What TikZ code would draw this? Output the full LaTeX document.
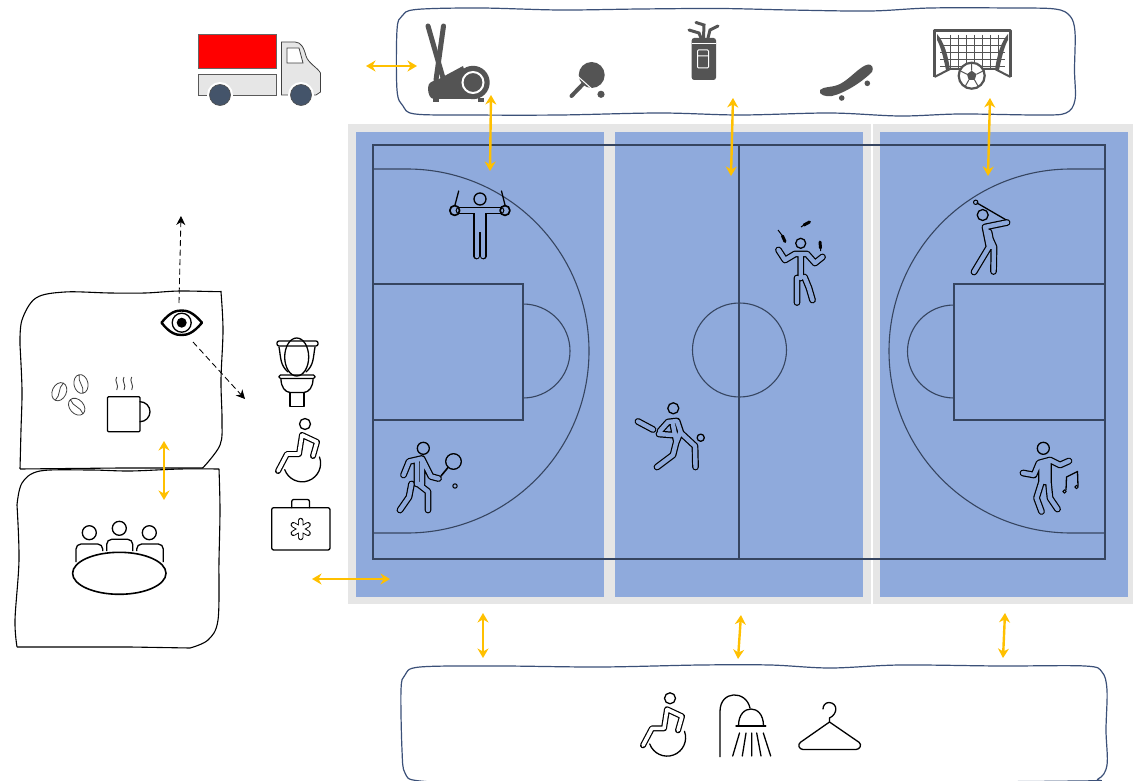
\documentclass[tikz,border=0pt]{standalone}
\usetikzlibrary{arrows.meta}
\definecolor{courtblue}{HTML}{8FAADC}
\definecolor{courtgrey}{HTML}{E6E6E6}
\definecolor{courtline}{HTML}{364560}
\definecolor{gold}{HTML}{FFC000}
\definecolor{navyline}{HTML}{3B5078}
\definecolor{icongrey}{HTML}{545454}
\definecolor{wheelblue}{HTML}{44546A}
\tikzset{
    goldarrow/.style={<->, draw=gold, line width=2.4pt, >={Stealth[length=9.5pt,width=11pt]}},
    sightline/.style={->, dash pattern=on 6pt off 3.5pt, line width=0.85pt, >={Stealth[length=9pt,width=9pt]}},
    courtstroke/.style={draw=courtline, line width=1.1pt},
    person/.style={draw=black, double=#1, line width=1.2pt, double distance=4.4pt, line cap=round, line join=round},
    person/.default=courtblue,
    thinline/.style={draw=black, line width=1.3pt, line cap=round, line join=round},
    wobble/.style={smooth cycle, tension=0.55},
    wheeluser/.pic={
        \draw[thinline] (0,0) circle (5.5pt);
        \draw[thinline] (14.5,33) arc[start angle=20, end angle=-160, radius=18.5pt];
        \draw[person=white, double distance=3.6pt] (-3,11) -- (-6,30) -- (-18,30) -- (-27,47)
            (-3,11) -- (12,18) -- (8,32);
    }
}
\begin{document}
\begin{tikzpicture}[x=1pt, y=-1pt]
    \useasboundingbox (0,0) rectangle (1133,781);

    \fill[courtgrey] (348,124) rectangle (870.5,604);
    \fill[courtgrey] (873,124) rectangle (1133,604);
    \fill[courtblue] (356,132) rectangle (603.5,597);
    \fill[courtblue] (615,132) rectangle (863,597);
    \fill[courtblue] (880,132) rectangle (1128,597);

    \draw[courtstroke] (373,145) rectangle (1105,559);
    \draw[courtstroke] (739,145) -- (739,559);
    \draw[courtstroke] (739.5,350) circle (47pt);
    \draw[courtstroke] (373,284) rectangle (523,420);
    \draw[courtstroke] (523,304) arc[start angle=90, end angle=-90, radius=47pt];
    \draw[courtstroke] (373,169) -- (407,169) arc[start angle=90, end angle=-90, radius=182pt] -- (373,533);
    \draw[courtstroke] (954,284) rectangle (1105,420);
    \draw[courtstroke] (954,305) arc[start angle=90, end angle=270, radius=46.5pt];
    \draw[courtstroke] (1105,169) -- (1071,169) arc[start angle=90, end angle=270, radius=182pt] -- (1105,533);

    \draw[navyline, line width=1.2pt, fill=white] plot[wobble] coordinates {
        (397,30) (402,16) (416,9.5) (480,8) (560,10) (640,9) (720,8.5) (790,10) (870,11) (930,8) (1010,8) (1055,9) (1070,16) (1075,32)
        (1074.5,70) (1075,100) (1066,113) (1040,115) (960,114) (900,116) (830,113) (740,115) (660,113) (560,115) (470,115) (415,114) (403,106) (397,90)
    };
    \draw[navyline, line width=1.2pt, fill=white] plot[wobble] coordinates {
        (401,690) (405,675) (420,667) (500,666) (600,667) (700,665) (770,665) (830,668) (900,665) (1000,666) (1085,666) (1102,672) (1107,690)
        (1106,730) (1107,765) (1098,779) (1075,781) (800,783) (500,783) (420,781) (405,773) (402,750)
    };

    \draw[line width=1.1pt, fill=white, rounded corners=0.5pt] plot[smooth, tension=0.55] coordinates {
        (20,345) (22,320) (36,298) (65,292) (110,293) (145,293) (180,291) (221,292)
    } -- (221,292) plot[smooth, tension=0.55] coordinates {
        (221,292) (223,330) (221,380) (222,420) (220,445) (203,468)
    } -- (120,468) -- (20,469) plot[smooth, tension=0.55] coordinates {
        (20,469) (21,430) (22,390) (20,345)
    };
    \draw[line width=1.1pt, fill=white] plot[smooth, tension=0.55] coordinates {
        (17,505) (22,483) (40,471) (90,470) (130,471) (180,469) (219,469)
    } -- (219,469) plot[smooth, tension=0.55] coordinates {
        (219,469) (220,510) (219,560) (218,620) (208,640) (190,648)
    } -- (130,647) -- (17,647) plot[smooth, tension=0.55] coordinates {
        (17,647) (15,620) (19,560) (17,505)
    };

    % truck
    \draw[fill=red, draw=black!60, line width=0.8pt] (198,34) rectangle (276,68);
    \draw[fill=courtgrey, draw=black!65, line width=0.8pt] (198,74) rectangle (276,95);
    \draw[fill=courtgrey, draw=black!75, line width=0.8pt] (281.5,95) -- (281.5,42) -- (295,42)
        .. controls (301,42) and (304,48) .. (306,56) .. controls (308,63) and (318,68) .. (320.5,73) -- (320.5,92) -- (316,95) -- cycle;
    \draw[fill=white, draw=black!75, line width=0.8pt] (287,48) -- (299,48) -- (303,63) -- (287,63) -- cycle;
    \fill[white] (220,95) circle (13pt);
    \fill[white] (301,95) circle (13pt);
    \draw[fill=wheelblue, draw=black!70, line width=0.6pt] (220,95) circle (10.5pt);
    \draw[fill=wheelblue, draw=black!70, line width=0.6pt] (301,95) circle (10.5pt);

    % top box equipment
    \draw[icongrey, line width=5pt, line cap=round] (428,26) -- (443,78);
    \draw[icongrey, line width=5pt, line cap=round] (443.5,26) -- (436,80);
    \fill[icongrey] (473,82.5) circle (16.7pt);
    \fill[icongrey] (428,88) .. controls (428,82) and (433,81) .. (437,80) -- (463,66) -- (473,99) -- (434,99) .. controls (430,99) and (428,94) .. (428,88) -- cycle;
    \fill[icongrey] (432.5,98) rectangle (438.5,102);
    \fill[icongrey] (477.5,98) rectangle (483.5,102);
    \draw[white, line width=2pt] (473,82.5) circle (10.5pt);
    \fill[icongrey] (591.7,75) circle (13pt);
    \draw[icongrey, line width=4pt, line cap=round] (585,82) -- (571.5,96);
    \draw[white, line width=1pt] (578,76.5) -- (592,89);
    \fill[icongrey] (601,94.3) circle (3.6pt);

    \fill[icongrey, rounded corners=2.5pt] (691.7,38) rectangle (716,80);
    \draw[white, line width=1pt] (692,43.5) -- (716,43.5);
    \draw[white, line width=1pt, rounded corners=1pt] (697.5,50) -- (708.5,50) -- (708.5,68) -- (697.5,68) -- cycle (697.5,56) -- (708.5,56);
    \draw[icongrey, line width=3pt, line cap=round] (689,30) -- (699,33) -- (701,38);
    \draw[icongrey, line width=3pt, line cap=round] (696,22.5) -- (704,25) -- (703.5,38);
    \draw[icongrey, line width=3pt, line cap=round] (718,26) -- (710,30) -- (708,38);

    \fill[icongrey] (820,90) .. controls (824,86) and (832,88) .. (840,84) .. controls (850,79) and (860,66) .. (868,64.5)
        .. controls (872,64) and (874,68) .. (872,72) .. controls (862,82) and (845,93) .. (832,96) .. controls (826,97) and (818,95) .. (820,90) -- cycle;
    \fill[icongrey] (841.7,98) circle (2.8pt);
    \fill[icongrey] (867.3,83.3) circle (2.8pt);

    \draw[icongrey, line width=0.7pt] foreach \gx in {950,958,...,998} {(\gx,35) -- (\gx,68)};
    \draw[icongrey, line width=0.7pt] foreach \gy in {38,45,...,66} {(940,\gy) -- (1005,\gy)};
    \draw[icongrey, line width=3.5pt, line join=round] (934.5,77) -- (934.5,30.5) -- (1010.5,30.5) -- (1010.5,77);
    \fill[icongrey] (937,34) .. controls (944,42) and (948,55) .. (950,70) -- (946,70) .. controls (943,55) and (940,45) .. (937,40) -- cycle;
    \fill[icongrey] (1008,34) .. controls (1001,42) and (997,55) .. (995,70) -- (999,70) .. controls (1002,55) and (1005,45) .. (1008,40) -- cycle;
    \draw[icongrey, line width=2pt] (934.5,77) -- (950,69) -- (995,69) -- (1010.5,77);
    \draw[icongrey, fill=white, line width=2.2pt] (971.7,75.7) circle (13pt);
    \fill[icongrey] (971.7,70.7) -- (976.5,74.2) -- (974.6,80) -- (968.8,80) -- (966.9,74.2) -- cycle;
    \draw[icongrey, line width=1pt] (971.7,70.7) -- (971.7,64) (976.5,74.2) -- (983,71) (974.6,80) -- (978,86) (968.8,80) -- (965.4,86) (966.9,74.2) -- (960.4,71);

    % players
    \draw[thinline] (480,199) circle (6pt);
    \draw[thinline] (458.7,191) -- (455,205) (501.5,191) -- (505,205);
    \draw[person] (459,210.5) -- (501,210.5) (476.7,212) -- (476.7,256) (483.2,212) -- (483.2,256) (480,212) -- (480,230);
    \draw[thinline, line width=1.7pt] (454.7,210.5) circle (4.9pt) (505,210.5) circle (4.9pt);

    \draw[thinline] (800.7,243.3) circle (5pt);
    \draw[person] (778.5,250) -- (785,260) -- (795,254) -- (807,254) -- (815,263) -- (822.5,257)
        (800.7,255) -- (800.7,278) (797,278) -- (797,302.5) (804.5,277) -- (809,288) -- (812.5,300);
    \draw[line width=3pt, line cap=round] (782.5,236) -- (785,241.5) (804,225) -- (809.5,222) (820,242) -- (820.5,248);
    \draw[line width=1pt] (778,230) -- (782.5,236) (801,227) -- (804,225) (820.5,248) -- (820.5,251);

    \draw[thinline] (423.3,448.3) circle (6pt);
    \draw[person] (403.5,475) -- (409,461.5) -- (422,458.5) -- (431,476.5) -- (438.5,478.5)
        (417,463) -- (417,484) (422,462) -- (422,484) (411.5,484) -- (409,497) -- (400,510) (417,483) -- (428,491.5) -- (428,510);
    \draw[thinline] (453.5,461.5) circle (7.8pt);
    \draw[thinline, line width=1.6pt] (441,476) -- (448,467.5);
    \draw[thinline, line width=1pt] (455,486) circle (2.2pt);

    \draw[thinline] (673.3,408.3) circle (5.5pt);
    \draw[person] (638,421.5) -- (653,429.5);
    \draw[person] (659,434) -- (672,435) (660,431) -- (668,422) -- (677,421) -- (681,433) -- (695,446) -- (695.5,467)
        (680,433) -- (676,443) -- (673,455) -- (657,467) (673,425) -- (676,440);
    \draw[thinline] (700.7,437.7) circle (3.6pt);

    \draw[thinline] (982.7,215) circle (5.5pt);
    \draw[thinline] (977,203) -- (1008,221);
    \draw[thinline, line width=1pt] (975.7,202.3) circle (2.2pt);
    \draw[person] (1007,222.5) -- (985,227) -- (989,247) -- (974,272) (985,227) -- (994,247) -- (993.5,271.5) (989,232) -- (992,247);

    \draw[thinline] (1043.3,448.3) circle (6pt);
    \draw[person] (1023,473) -- (1034,475) -- (1039,463) -- (1050,460) -- (1060,465) -- (1069,461)
        (1041.5,463) -- (1041.5,482) -- (1036.5,498) -- (1041.5,511.5) (1048.5,463) -- (1048.5,483) -- (1050,498) -- (1057.5,509) (1045,463) -- (1045,482);
    \draw[thinline] (1066,490) -- (1066.5,477) -- (1077.5,471.5) -- (1078,486);
    \draw[thinline, line width=1pt] (1064.5,491.5) circle (1.7pt) (1076.5,487) circle (1.7pt);

    % side room
    \draw[thinline, rounded corners=2pt] (277,341) rectangle (318,346);
    \draw[thinline] (296.7,357) ellipse (12pt and 19pt);
    \draw[thinline] (279,347) .. controls (281,358) and (280,365) .. (288,372);
    \draw[thinline] (315,347) .. controls (313,358) and (314,365) .. (306,372);
    \draw[thinline, rounded corners=1.5pt] (279,375) rectangle (315,378.5);
    \draw[thinline] (281,379) .. controls (281,387) and (285,392) .. (290,392.5) -- (304,392.5) .. controls (309,392) and (313,387) .. (313,379);
    \draw[thinline] (290,392.5) -- (290,406.7) -- (304,406.7) -- (304,392.5);

    \pic (wheelside) at (305,424) {wheeluser};
    \pic (wheelbottom) at (670,698.3) {wheeluser};

    \draw[thinline, rounded corners=2pt] (271.7,507.7) rectangle (330,550);
    \draw[thinline, rounded corners=2pt] (291.7,507.7) -- (291.7,499.5) -- (309.5,499.5) -- (309.5,507.7);
    \draw[person=white, line width=0.9pt, double distance=3.6pt] (300.7,520.5) -- (300.7,537.5) (293.3,524.7) -- (308.1,533.3) (293.3,533.3) -- (308.1,524.7);

    \draw[line width=2.4pt, line join=round] (161.5,322.7) .. controls (170,312) and (176,310.5) .. (181.7,310.5) .. controls (187,310.5) and (193,312) .. (202,322.7)
        .. controls (193,333.5) and (187,335) .. (181.7,335) .. controls (176,335) and (170,333.5) .. (161.5,322.7) -- cycle;
    \draw[line width=1.3pt] (181.7,322.7) circle (9.5pt);
    \fill (181.7,322.7) circle (5pt);

    \foreach \bx/\by/\brot in {59.3/391.7/-25, 81/384/12, 76.7/406.7/42} {
        \draw[black!75, line width=0.8pt, rotate around={\brot:(\bx,\by)}] (\bx,\by) ellipse (7pt and 9.5pt)
            (\bx,\by-9) .. controls (\bx-3,\by-3) and (\bx+3,\by+3) .. (\bx,\by+9);
    }
    \draw[thinline, rounded corners=1pt] (107.5,396.7) rectangle (140,431.7);
    \draw[thinline] (140,401.7) arc[start angle=90, end angle=-90, radius=10pt];
    \foreach \sx in {116.7,124,131.7} {
        \draw[black!75, line width=0.9pt] (\sx,377) .. controls (\sx-3,381) and (\sx+3,385) .. (\sx,390);
    }

    \draw[line width=1.3pt] (89.3,532.7) circle (7pt);
    \draw[line width=1.3pt] (119.3,528.3) circle (7pt);
    \draw[line width=1.3pt] (149.3,532.7) circle (7pt);
    \draw[line width=1.3pt, rounded corners=5pt] (76,562) -- (76,544) -- (102.7,544) -- (102.7,551);
    \draw[line width=1.3pt, rounded corners=5pt] (106.7,551) -- (106.7,539.3) -- (132.7,539.3) -- (132.7,551);
    \draw[line width=1.3pt, rounded corners=5pt] (136.7,551) -- (136.7,544) -- (163.3,544) -- (163.3,562);
    \draw[line width=1.6pt, fill=white] (119.3,573.3) ellipse (46.7pt and 21pt);

    % bottom box
    \draw[thinline] (720,756.7) -- (720,711.5) .. controls (720,690) and (746,690) .. (750,708);
    \draw[thinline] (738.5,726) .. controls (738.5,714) and (745,709) .. (751,709) .. controls (757,709) and (763.5,714) .. (763.5,726);
    \draw[thinline, line width=1.5pt] (736,726) -- (765.7,726);
    \draw[thinline] (739.5,733) -- (732.7,756) (746,733) -- (742.3,756) (751.7,733) -- (751.7,756) (756.7,733) -- (761,756) (763.3,733) -- (770.7,756);
    \draw[thinline, rounded corners=3pt] (829.5,722) -- (861.5,744) -- (859,749.5) -- (800,749.5) -- (798,744) -- (829.5,722);
    \draw[thinline] (829.5,722) -- (829.5,718) .. controls (838,714) and (838,703) .. (829,702.5) .. controls (825,702.5) and (823,706) .. (823,709);

    % flows
    \coordinate (truckright) at (366,66);
    \coordinate (bikeleft) at (417,66);
    \coordinate (bikeunder) at (491,95);
    \coordinate (courtnorthA) at (490,171);
    \coordinate (bagunder) at (733,98);
    \coordinate (courtnorthB) at (731,176);
    \coordinate (goalunder) at (990,98);
    \coordinate (courtnorthC) at (988,176);
    \coordinate (cafebottom) at (164,441);
    \coordinate (meetingtop) at (164,500);
    \coordinate (sideroom) at (312,579);
    \coordinate (courtwest) at (390,579);
    \coordinate (courtsouthA) at (483,613);
    \coordinate (lockerA) at (483,658);
    \coordinate (courtsouthB) at (741,615);
    \coordinate (lockerB) at (738,659);
    \coordinate (courtsouthC) at (1005,613);
    \coordinate (lockerC) at (1003,658);
    \coordinate (eyetop) at (179,303);
    \coordinate (viewnorth) at (181,216);
    \coordinate (eyebottom) at (193,342);
    \coordinate (viewsouth) at (245,399);

    \draw[goldarrow] (truckright) -- (bikeleft);
    \draw[goldarrow] (bikeunder) -- (courtnorthA);
    \draw[goldarrow] (bagunder) -- (courtnorthB);
    \draw[goldarrow] (goalunder) -- (courtnorthC);
    \draw[goldarrow] (cafebottom) -- (meetingtop);
    \draw[goldarrow] (sideroom) -- (courtwest);
    \draw[goldarrow] (courtsouthA) -- (lockerA);
    \draw[goldarrow] (courtsouthB) -- (lockerB);
    \draw[goldarrow] (courtsouthC) -- (lockerC);
    \draw[sightline] (eyetop) -- (viewnorth);
    \draw[sightline] (eyebottom) -- (viewsouth);
\end{tikzpicture}
\end{document}
